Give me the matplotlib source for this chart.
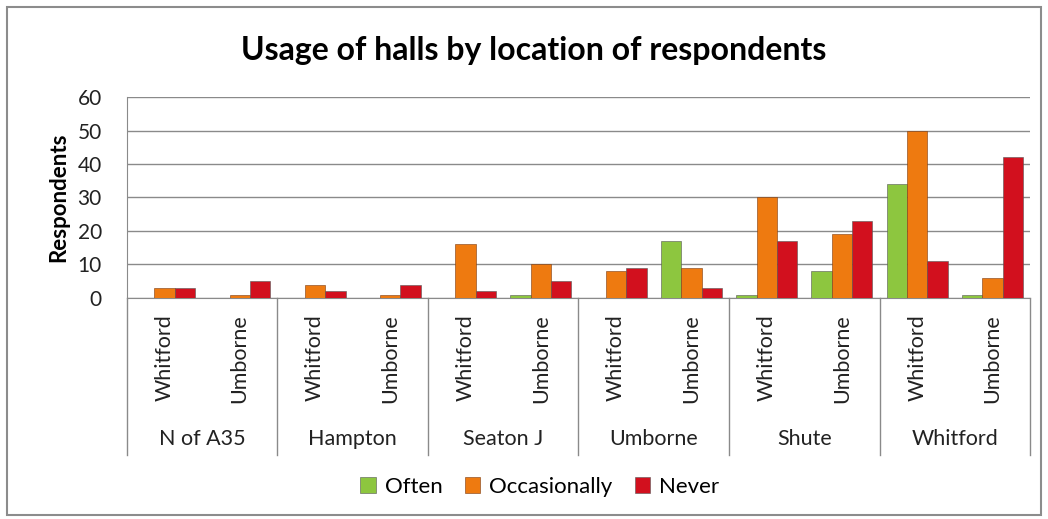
import matplotlib.pyplot as plt
import matplotlib.patches as mpatches
import matplotlib.transforms as mtransforms
import numpy as np

plt.rcParams['font.family'] = ['Lato', 'DejaVu Sans']

# data
groups = ["N of A35", "Hampton", "Seaton J", "Umborne", "Shute", "Whitford"]
halls = ["Whitford", "Umborne"]
often = [0, 0, 0, 0, 0, 1, 0, 17, 1, 8, 34, 1]
occasionally = [3, 1, 4, 1, 16, 10, 8, 9, 30, 19, 50, 6]
never = [3, 5, 2, 4, 2, 5, 9, 3, 17, 23, 11, 42]

series = [("Often", often, "#8DC63F"),
          ("Occasionally", occasionally, "#EE7A10"),
          ("Never", never, "#D2101E")]

fig = plt.figure(figsize=(10.48, 5.19), dpi=100)
fig.patches.append(mpatches.Rectangle((0.007, 0.008), 0.986, 0.978, transform=fig.transFigure,
                                      fill=False, edgecolor="#8c8c8c", linewidth=1.5))
ax = fig.add_axes([0.121, 0.426, 0.862, 0.387])

n = len(often)
x = np.arange(n)
w = 0.27
for i, (name, vals, col) in enumerate(series):
    ax.bar(x + (i - 1) * w, vals, w, color=col, edgecolor="#7a3a10" if i == 1 else "#555555",
           linewidth=0.4, label=name, zorder=3)

ax.set_xlim(-0.5, n - 0.5)
ax.set_ylim(0, 60)
ax.set_yticks(range(0, 61, 10))
ax.tick_params(axis='y', labelsize=15, length=0, pad=18, colors="#222222")
ax.grid(axis='y', color="#8a8a8a", linewidth=1)
ax.set_axisbelow(True)
for s in ["top", "right"]:
    ax.spines[s].set_visible(False)
ax.spines["left"].set_color("#8a8a8a")
ax.spines["bottom"].set_color("#8a8a8a")
ax.set_ylabel("Respondents", fontsize=16, fontweight="bold", labelpad=6)

ax.set_xticks([])
trans = mtransforms.blended_transform_factory(ax.transData, ax.transAxes)
for i in range(n):
    ax.text(x[i], -0.08, halls[i % 2], transform=trans, rotation=90, ha="center", va="top",
            fontsize=15.5, color="#222222")
for g, name in enumerate(groups):
    ax.text(2 * g + 0.5, -0.70, name, transform=trans, ha="center", va="center",
            fontsize=15.5, color="#222222")
for g in range(len(groups) + 1):
    ax.plot([2 * g - 0.5, 2 * g - 0.5], [0, -0.78], transform=trans, color="#8a8a8a",
            linewidth=1, clip_on=False)

fig.text(0.509, 0.903, "Usage of halls by location of respondents", fontsize=23,
         fontweight="bold", ha="center", va="center")

fig.legend(loc="center", bbox_to_anchor=(0.515, 0.062), ncol=3, frameon=False, fontsize=16,
           handlelength=0.7, handleheight=0.7, handletextpad=0.4, columnspacing=1.0)

fig.savefig("out.png", dpi=100)
